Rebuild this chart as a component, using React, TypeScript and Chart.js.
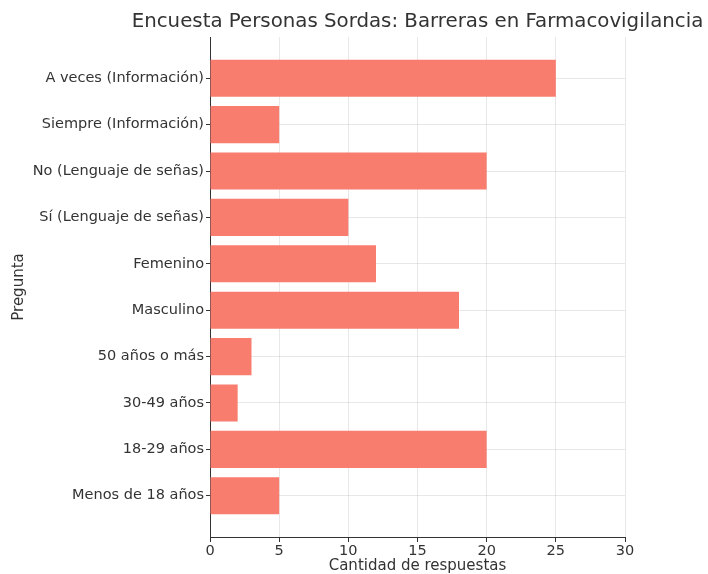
import React, { useEffect, useRef } from "react";
import { Chart, registerables } from "chart.js";

Chart.register(...registerables);

const TITLE = "Encuesta Personas Sordas: Barreras en Farmacovigilancia";
const CATEGORIES = [
  "A veces (Información)",
  "Siempre (Información)",
  "No (Lenguaje de señas)",
  "Sí (Lenguaje de señas)",
  "Femenino",
  "Masculino",
  "50 años o más",
  "30-49 años",
  "18-29 años",
  "Menos de 18 años",
];
const VALUES = [25, 5, 20, 10, 12, 18, 3, 2, 20, 5];
const X_TICKS = [0, 5, 10, 15, 20, 25, 30];
const X_LABEL = "Cantidad de respuestas";
const Y_LABEL = "Pregunta";

const FONT = '"DejaVu Sans", sans-serif';
const TEXT = "#333333";

const titlePlugin = {
  id: "centerTitle",
  afterDraw(chart: any) {
    const { ctx, chartArea } = chart;
    ctx.save();
    ctx.font = `19.8px ${FONT}`;
    ctx.fillStyle = TEXT;
    ctx.textAlign = "center";
    ctx.textBaseline = "middle";
    ctx.fillText(TITLE, (chartArea.left + chartArea.right) / 2, chartArea.top - 15);
    ctx.restore();
  },
};

export default function App() {
  const ref = useRef<HTMLCanvasElement | null>(null);
  useEffect(() => {
    if (!ref.current) return;
    const chart = new Chart(ref.current, {
      type: "bar",
      data: {
        datasets: [
          {
            data: VALUES.map((v, i) => ({ x: v, y: i })),
            backgroundColor: "#F87D6F",
            borderWidth: 0,
            categoryPercentage: 0.8,
            barPercentage: 1,
          },
        ],
      },
      plugins: [titlePlugin],
      options: {
        indexAxis: "y",
        animation: false,
        responsive: true,
        maintainAspectRatio: false,
        layout: { padding: { top: 37, left: 6, right: 83, bottom: 0 } },
        plugins: {
          legend: { display: false },
          title: { display: false },
          tooltip: { enabled: false },
        },
        scales: {
          x: {
            type: "linear",
            min: 0,
            max: 30,
            offset: false,
            afterBuildTicks: (axis: any) => {
              axis.ticks = X_TICKS.map((v) => ({ value: v }));
            },
            afterFit: (axis: any) => {
              axis.height = 37;
            },
            grid: {
              offset: false,
              color: "rgba(0,0,0,0.09)",
              tickColor: "#333",
              tickLength: 5,
            },
            border: { color: "#333", width: 1 },
            ticks: {
              padding: 1,
              color: TEXT,
              font: { family: FONT, size: 14.5 },
            },
            title: {
              display: true,
              text: X_LABEL,
              color: TEXT,
              font: { family: FONT, size: 15, lineHeight: 1.0 },
              padding: { top: 0, bottom: 0 },
            },
          },
          y: {
            type: "linear",
            reverse: true,
            offset: false,
            min: -0.89,
            max: CATEGORIES.length - 1 + 0.89,
            afterBuildTicks: (axis: any) => {
              axis.ticks = CATEGORIES.map((_, i) => ({ value: i }));
            },
            afterFit: (axis: any) => {
              axis.width = 204;
            },
            grid: {
              offset: false,
              color: "rgba(0,0,0,0.09)",
              tickColor: "#333",
              tickLength: 4,
            },
            border: { color: "#333", width: 1 },
            ticks: {
              padding: 2,
              color: TEXT,
              font: { family: FONT, size: 14.5 },
              callback: (v: any) => CATEGORIES[v as number] ?? "",
            },
            title: {
              display: true,
              text: Y_LABEL,
              color: TEXT,
              font: { family: FONT, size: 15 },
            },
          },
        },
      },
    });
    return () => chart.destroy();
  }, []);
  return (
    <div style={{ position: "absolute", left: 0, top: 0, width: 708, height: 574, background: "#fff" }}>
      <canvas ref={ref} />
    </div>
  );
}
